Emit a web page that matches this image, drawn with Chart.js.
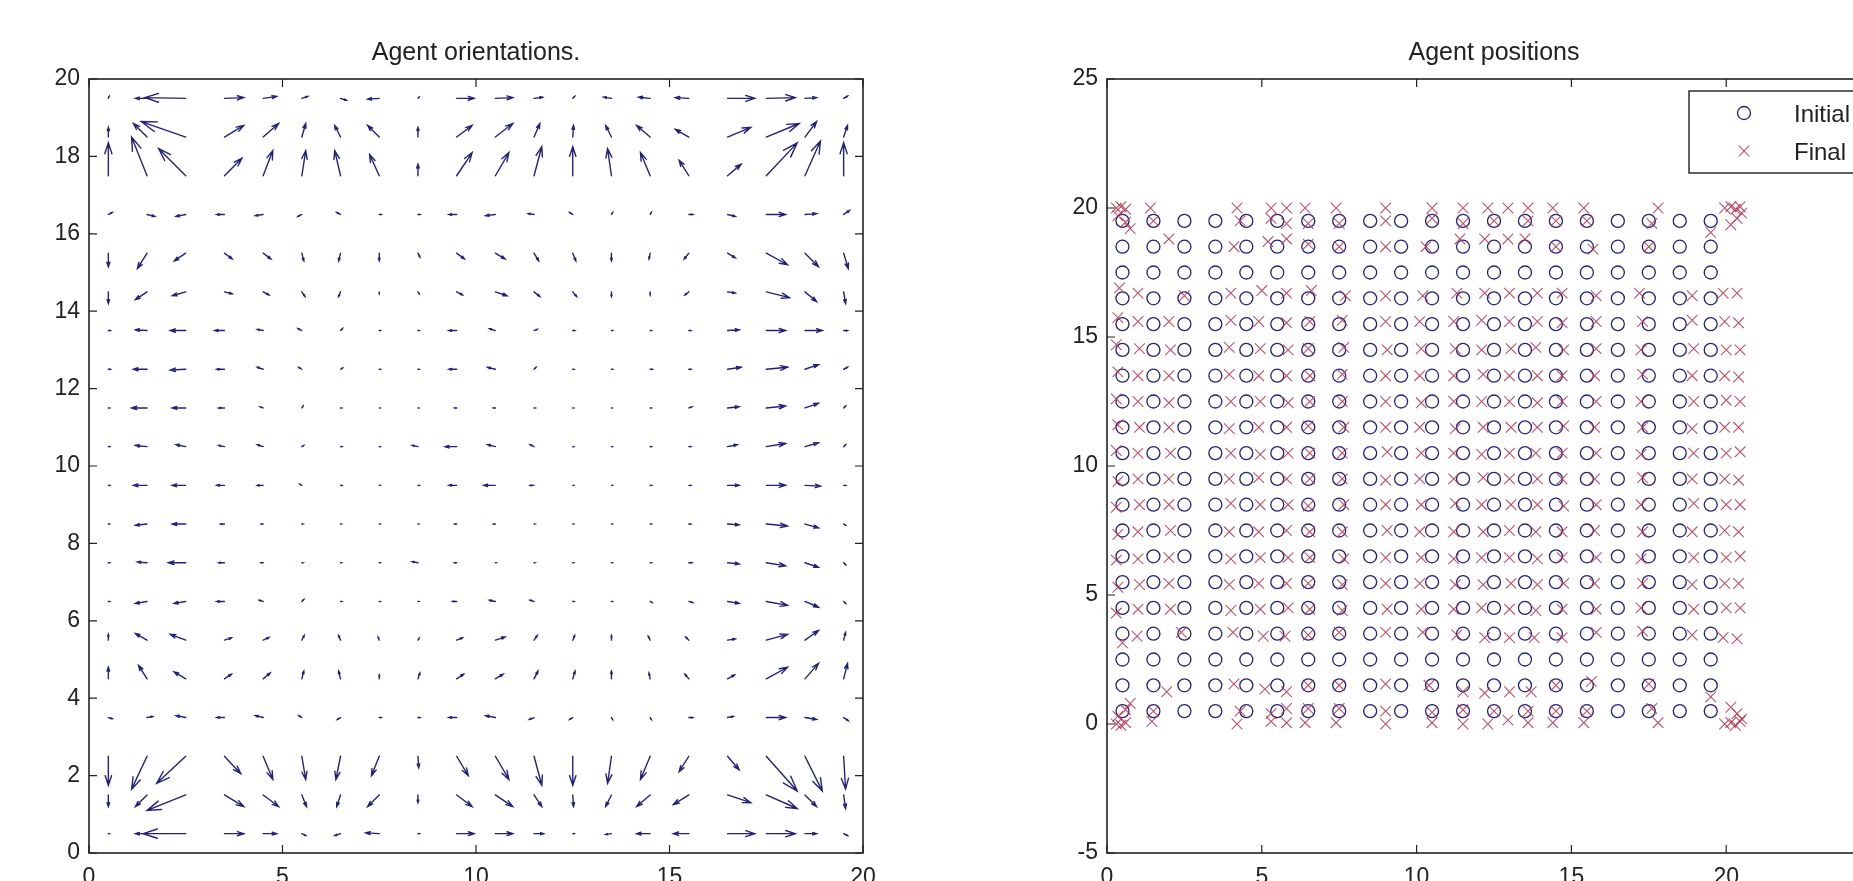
<!DOCTYPE html>
<html>
<head>
<meta charset="utf-8">
<script src="https://cdn.jsdelivr.net/npm/chart.js@4.4.1/dist/chart.umd.min.js"></script>
<style>
html, body { margin: 0; padding: 0; background: #fff; overflow: hidden; width: 1853px; height: 881px; }
canvas { position: absolute; top: 0; }
#orient { left: 0; }
#pos { left: 960px; }
</style>
</head>
<body>
<canvas id="orient" width="940" height="900"></canvas>
<canvas id="pos" width="1000" height="900"></canvas>
<script>
'use strict'

// agent grid (x columns, y rows from top)
var gridX = [0.5, 1.5, 2.5, 3.5, 4.5, 5.5, 6.5, 7.5, 8.5, 9.5, 10.5, 11.5, 12.5, 13.5, 14.5, 15.5, 16.5, 17.5, 18.5, 19.5]
var gridY = [19.5, 18.5, 17.5, 16.5, 15.5, 14.5, 13.5, 12.5, 11.5, 10.5, 9.5, 8.5, 7.5, 6.5, 5.5, 4.5, 3.5, 2.5, 1.5, 0.5]

// orientation arrows, one row per gridY entry
var arrowU = [
  [0.02, -0.3, -1.05, 0.5, 0.35, 0.15, 0.15, -0.3, 0.03, 0.45, 0.45, 0.22, 0.05, -0.2, -0.3, -0.35, 0.7, 0.75, 0.3, 0.1],
  [0, -0.35, -1.15, 0.5, 0.4, 0.1, -0.15, -0.3, 0, 0.4, 0.45, 0.15, 0.02, -0.15, -0.35, -0.35, 0.6, 0.85, 0.3, 0.1],
  [0, -0.4, -0.7, 0.45, 0.25, 0.1, -0.15, -0.25, 0, 0.4, 0.35, 0.2, 0, -0.1, -0.25, -0.25, 0.35, 0.8, 0.4, 0],
  [0.1, 0.2, -0.25, -0.2, -0.2, -0.1, -0.1, 0.05, 0.05, -0.2, -0.25, -0.15, -0.08, 0.03, 0.03, 0.1, 0.2, 0.5, 0.3, 0.15],
  [0, -0.25, -0.3, 0.2, 0.2, 0.05, -0.05, 0, 0.05, 0.2, 0.25, 0.12, 0.08, 0, -0.03, -0.12, 0.2, 0.55, 0.35, 0.12],
  [0, -0.3, -0.35, 0.2, 0.15, 0.08, -0.05, 0, 0.03, 0.15, 0.3, 0.15, 0.1, 0, 0, -0.1, 0.2, 0.6, 0.3, 0.05],
  [0.05, -0.3, -0.4, -0.25, -0.15, -0.1, 0.05, 0.03, 0.03, -0.2, -0.15, 0.08, 0.05, 0.03, 0.03, 0.05, 0.3, 0.5, 0.45, 0.1],
  [0.05, -0.35, -0.4, -0.2, -0.15, -0.08, 0.05, 0.03, 0.03, -0.2, -0.2, 0.05, 0.03, 0.03, 0.05, 0.05, 0.35, 0.55, 0.35, 0.1],
  [0.03, -0.4, -0.35, -0.15, -0.08, 0.03, 0.03, 0.02, 0.02, -0.05, -0.05, 0.03, 0.02, 0.02, 0.03, 0.08, 0.3, 0.5, 0.35, 0.05],
  [0.03, -0.3, -0.25, -0.15, -0.15, 0.05, 0.03, 0.02, -0.15, -0.3, -0.2, -0.1, 0.02, 0.02, 0.03, 0.05, 0.25, 0.5, 0.35, 0.05],
  [0.03, -0.35, -0.35, -0.2, -0.15, -0.05, 0.03, 0.02, 0.03, -0.2, -0.3, -0.1, 0.02, 0.02, 0.03, 0.05, 0.3, 0.5, 0.4, 0.05],
  [0.03, -0.3, -0.35, -0.1, -0.05, 0.03, 0.02, 0.02, 0.02, -0.05, -0.05, 0.02, 0.02, 0.02, 0.03, 0.05, 0.3, 0.55, 0.35, 0.05],
  [0.03, -0.25, -0.45, -0.15, -0.05, 0.03, 0.02, 0.02, -0.15, -0.05, 0.02, 0.02, 0.02, 0.02, 0.03, 0.08, 0.3, 0.5, 0.35, 0.05],
  [0.03, -0.3, -0.3, -0.2, -0.1, 0.05, 0.03, 0.02, 0.02, -0.1, -0.15, -0.1, 0.03, 0.02, 0.05, 0.1, 0.3, 0.55, 0.35, 0.05],
  [0, -0.3, -0.4, 0.18, 0.15, 0.06, -0.05, -0.03, 0.03, 0.15, 0.25, 0.08, 0.05, 0, -0.05, -0.08, 0.2, 0.55, 0.35, 0.05],
  [0, -0.22, -0.3, 0.18, 0.18, 0.05, -0.05, 0, 0.05, 0.18, 0.2, 0.1, 0.06, 0, -0.03, -0.1, 0.18, 0.55, 0.35, 0.1],
  [0.1, 0.15, -0.25, -0.2, -0.2, -0.08, -0.08, 0.05, 0.05, -0.2, -0.25, -0.12, -0.08, 0.03, 0.03, 0.1, 0.15, 0.5, 0.3, 0.12],
  [0, -0.4, -0.75, 0.42, 0.25, 0.1, -0.12, -0.2, 0.02, 0.3, 0.35, 0.2, 0, -0.1, -0.25, -0.25, 0.3, 0.8, 0.45, 0.05],
  [0, -0.3, -1.0, 0.5, 0.4, 0.12, -0.1, -0.3, 0, 0.4, 0.45, 0.2, 0.02, -0.15, -0.35, -0.4, 0.6, 0.8, 0.3, 0.05],
  [0.02, -0.3, -1.1, 0.5, 0.35, 0.1, -0.15, -0.35, 0.03, 0.45, 0.45, 0.25, 0.03, -0.15, -0.35, -0.4, 0.7, 0.75, 0.3, 0.1]
]
var arrowV = [
  [0.05, 0, 0.02, 0.02, 0.05, 0.05, -0.05, -0.02, 0.03, 0, 0.02, 0.03, 0.05, 0.03, 0.03, 0.02, 0, 0.02, 0.02, 0.06],
  [0.25, 0.35, 0.4, 0.3, 0.35, 0.35, 0.3, 0.3, 0.25, 0.3, 0.35, 0.35, 0.3, 0.3, 0.3, 0.2, 0.25, 0.35, 0.4, 0.3],
  [0.85, 1.0, 0.7, 0.45, 0.65, 0.65, 0.65, 0.55, 0.3, 0.6, 0.6, 0.75, 0.75, 0.7, 0.6, 0.4, 0.3, 0.85, 0.9, 0.85],
  [0.05, -0.05, -0.05, 0, -0.03, -0.05, 0.05, 0, 0, 0, -0.03, 0.02, 0.05, 0.05, 0.05, 0, -0.05, 0, 0.02, 0.1],
  [-0.35, -0.4, -0.2, -0.15, -0.15, -0.2, -0.2, -0.2, -0.1, -0.15, -0.15, -0.2, -0.2, -0.2, -0.15, -0.15, -0.12, -0.3, -0.35, -0.4],
  [-0.3, -0.2, -0.1, -0.05, -0.08, -0.12, -0.12, -0.05, -0.05, -0.08, -0.1, -0.12, -0.12, -0.12, -0.08, -0.08, -0.03, -0.15, -0.25, -0.3],
  [0, 0.02, 0, 0, 0.03, 0.05, 0.05, 0, 0, 0, 0.05, 0.03, 0, 0, 0, 0, 0.02, 0, 0, 0],
  [0, 0, -0.02, 0, 0.05, 0.05, 0.03, 0, 0, 0, 0.05, 0.05, 0, 0, 0, 0, 0.05, 0.05, 0.12, 0.05],
  [0, 0, 0, 0, 0.03, 0.05, 0, 0, 0, 0, 0, 0, 0, 0, 0, 0.03, 0.03, 0.05, 0.12, 0.05],
  [0, 0.03, 0.05, 0.03, 0.05, 0.03, 0, 0, 0.03, 0, 0.05, 0.05, 0, 0, 0, 0, 0.05, 0.08, 0.1, 0.05],
  [0, 0, 0, 0, 0, 0.03, 0, 0, 0, 0, 0, 0, 0, 0, 0, 0, 0, 0, -0.02, 0],
  [0, -0.03, 0, 0, 0, 0, 0, 0, 0, 0, 0, 0, 0, 0, 0, 0, -0.02, -0.05, -0.1, -0.03],
  [0, 0.02, 0, 0, 0, 0, 0, 0, 0.03, 0, 0, 0, 0, 0, 0, 0, -0.03, -0.08, -0.12, -0.05],
  [0, -0.05, -0.05, 0, 0.03, 0.05, 0, 0, 0, 0, 0.03, 0.03, 0, 0, -0.03, -0.03, -0.05, -0.1, -0.15, -0.05],
  [0.15, 0.17, 0.15, 0.06, 0.07, 0.12, 0.12, 0.08, 0.05, 0.06, 0.08, 0.12, 0.12, 0.12, 0.1, 0.08, 0.03, 0.15, 0.25, 0.2],
  [0.3, 0.35, 0.18, 0.12, 0.15, 0.2, 0.2, 0.1, 0.15, 0.12, 0.12, 0.2, 0.2, 0.2, 0.15, 0.12, 0.1, 0.3, 0.4, 0.4],
  [-0.03, 0.03, 0.05, 0, 0.05, 0.05, -0.05, 0, 0, 0, 0.05, -0.05, -0.05, -0.05, -0.05, 0, 0.03, 0, -0.05, -0.08],
  [-0.75, -0.85, -0.7, -0.45, -0.6, -0.6, -0.6, -0.5, -0.3, -0.5, -0.6, -0.75, -0.75, -0.7, -0.6, -0.4, -0.35, -0.9, -0.9, -0.85],
  [-0.3, -0.3, -0.4, -0.3, -0.3, -0.3, -0.3, -0.3, -0.2, -0.3, -0.3, -0.3, -0.3, -0.3, -0.3, -0.25, -0.2, -0.35, -0.3, -0.35],
  [0, 0, 0, 0, 0, -0.05, -0.05, 0.02, 0, 0, 0, 0, 0, -0.02, 0, 0, 0, 0, 0, -0.05]
]

// final agent positions, read row band by row band
var finalX = [
  0.3, 0.45, 0.6, 1.4, 4.2, 5.3, 5.8, 6.4, 7.4, 9.0, 10.5, 11.5, 12.3, 12.95, 13.6, 14.4, 15.4, 17.8, 19.95, 20.15, 20.3, 20.45,
  0.35, 0.6, 0.75, 1.5, 4.3, 5.3, 5.8, 6.5, 7.5, 9.0, 10.5, 11.5, 12.5, 13.6, 14.5, 15.5, 17.6, 19.5, 20.15, 20.35, 20.5,
  2.0, 4.1, 5.2, 5.8, 6.5, 7.5, 9.0, 10.3, 11.4, 12.2, 12.95, 13.5, 14.5, 15.7, 17.5,
  0.4, 1.0, 2.5, 4.0, 5.0, 5.8, 6.6, 7.7, 9.0, 10.2, 11.3, 12.2, 13.0, 13.9, 14.7, 15.8, 17.2, 18.9, 19.9, 20.35,
  0.35, 1.0, 2.0, 4.0, 4.9, 5.8, 6.55, 7.6, 9.0, 10.1, 11.2, 12.1, 13.0, 13.9, 14.7, 15.8, 17.3, 18.9, 19.95, 20.4,
  0.3, 1.05, 2.05, 3.95, 4.95, 5.85, 6.5, 7.65, 9.05, 10.15, 11.25, 12.1, 13.05, 13.85, 14.75, 15.8, 17.25, 18.95, 20.0, 20.45,
  0.35, 1.0, 2.0, 3.95, 4.9, 5.8, 6.55, 7.6, 9.0, 10.1, 11.2, 12.15, 13.0, 13.9, 14.7, 15.75, 17.3, 18.9, 19.95, 20.4,
  0.3, 1.0, 2.0, 4.0, 4.95, 5.85, 6.55, 7.6, 9.0, 10.15, 11.2, 12.1, 13.0, 13.9, 14.7, 15.8, 17.25, 18.95, 20.0, 20.45,
  0.35, 1.05, 2.0, 3.95, 4.9, 5.8, 6.5, 7.65, 9.0, 10.1, 11.25, 12.15, 13.05, 13.9, 14.75, 15.75, 17.3, 18.9, 19.95, 20.4,
  0.3, 1.0, 2.05, 4.0, 4.95, 5.85, 6.55, 7.6, 9.05, 10.15, 11.2, 12.1, 13.0, 13.85, 14.7, 15.8, 17.25, 18.95, 20.0, 20.45,
  0.35, 1.0, 2.0, 3.95, 4.9, 5.8, 6.55, 7.6, 9.0, 10.1, 11.2, 12.15, 13.0, 13.9, 14.7, 15.75, 17.3, 18.9, 19.95, 20.4,
  0.3, 1.05, 2.0, 4.0, 4.95, 5.85, 6.5, 7.65, 9.0, 10.15, 11.25, 12.1, 13.05, 13.9, 14.75, 15.8, 17.25, 18.95, 20.0, 20.45,
  0.35, 1.0, 2.05, 3.95, 4.9, 5.8, 6.55, 7.6, 9.05, 10.1, 11.2, 12.15, 13.0, 13.85, 14.7, 15.75, 17.3, 18.9, 19.95, 20.4,
  0.3, 1.0, 2.0, 4.0, 4.95, 5.85, 6.55, 7.65, 9.0, 10.15, 11.2, 12.1, 13.0, 13.9, 14.7, 15.8, 17.25, 18.95, 20.0, 20.45,
  0.35, 1.05, 2.0, 3.95, 4.9, 5.8, 6.5, 7.6, 9.0, 10.1, 11.25, 12.15, 13.05, 13.9, 14.75, 15.75, 17.3, 18.9, 19.95, 20.4,
  0.3, 1.0, 2.05, 4.0, 4.95, 5.85, 6.55, 7.6, 9.05, 10.15, 11.2, 12.1, 13.0, 13.85, 14.7, 15.8, 17.25, 18.95, 20.0, 20.45,
  0.5, 0.97, 2.4, 4.07, 5.05, 5.75, 6.5, 7.5, 9.0, 10.2, 11.3, 12.2, 13.0, 13.8, 14.7, 15.8, 17.3, 18.9, 19.9, 20.35,
  1.93, 4.1, 5.1, 5.8, 6.5, 7.5, 9.0, 10.4, 11.5, 12.2, 13.0, 13.7, 14.5, 15.65, 17.5, 19.5,
  0.35, 0.6, 0.75, 1.5, 4.3, 5.3, 5.8, 6.5, 7.5, 9.0, 10.5, 11.5, 12.5, 13.6, 14.5, 15.5, 17.6, 20.15, 20.35, 20.5,
  0.3, 0.45, 0.6, 1.45, 4.2, 5.3, 5.8, 6.4, 7.4, 9.0, 10.5, 11.5, 12.3, 12.95, 13.6, 14.4, 15.4, 17.8, 19.95, 20.15, 20.3, 20.45
]
var finalY = [
  20.0, 20.05, 19.95, 20.0, 20.0, 20.0, 20.0, 20.0, 20.0, 20.0, 20.0, 20.0, 20.0, 20.0, 20.0, 20.0, 20.0, 20.0, 20.0, 20.05, 19.95, 20.05,
  19.7, 19.45, 19.2, 19.5, 19.5, 19.6, 19.4, 19.4, 19.4, 19.5, 19.6, 19.4, 19.5, 19.5, 19.5, 19.5, 19.4, 19.05, 19.35, 19.6, 19.8,
  18.8, 18.5, 18.7, 18.8, 18.6, 18.5, 18.5, 18.5, 18.8, 18.8, 18.8, 18.8, 18.5, 18.4, 18.5,
  16.9, 16.7, 16.6, 16.7, 16.8, 16.7, 16.8, 16.6, 16.6, 16.6, 16.7, 16.7, 16.7, 16.7, 16.7, 16.6, 16.7, 16.6, 16.7, 16.7,
  15.75, 15.6, 15.6, 15.65, 15.6, 15.55, 15.6, 15.65, 15.6, 15.6, 15.6, 15.65, 15.6, 15.6, 15.55, 15.6, 15.6, 15.65, 15.6, 15.55,
  14.7, 14.55, 14.5, 14.6, 14.55, 14.5, 14.55, 14.6, 14.5, 14.55, 14.55, 14.5, 14.55, 14.6, 14.5, 14.55, 14.5, 14.55, 14.5, 14.5,
  13.65, 13.5, 13.5, 13.55, 13.5, 13.5, 13.5, 13.55, 13.5, 13.5, 13.5, 13.55, 13.5, 13.5, 13.5, 13.5, 13.55, 13.5, 13.5, 13.45,
  12.6, 12.5, 12.45, 12.5, 12.5, 12.45, 12.5, 12.5, 12.5, 12.45, 12.5, 12.5, 12.5, 12.45, 12.5, 12.5, 12.5, 12.5, 12.55, 12.5,
  11.6, 11.5, 11.5, 11.45, 11.5, 11.5, 11.55, 11.5, 11.5, 11.5, 11.45, 11.5, 11.5, 11.5, 11.55, 11.5, 11.5, 11.45, 11.5, 11.5,
  10.6, 10.5, 10.5, 10.5, 10.45, 10.5, 10.5, 10.5, 10.55, 10.5, 10.5, 10.45, 10.5, 10.5, 10.5, 10.5, 10.45, 10.5, 10.5, 10.55,
  9.4, 9.5, 9.5, 9.5, 9.55, 9.5, 9.5, 9.5, 9.45, 9.5, 9.5, 9.55, 9.5, 9.5, 9.5, 9.5, 9.55, 9.5, 9.5, 9.45,
  8.4, 8.5, 8.5, 8.55, 8.5, 8.5, 8.45, 8.5, 8.5, 8.5, 8.55, 8.5, 8.5, 8.5, 8.45, 8.5, 8.5, 8.55, 8.5, 8.5,
  7.35, 7.45, 7.5, 7.45, 7.45, 7.5, 7.45, 7.45, 7.5, 7.45, 7.45, 7.45, 7.5, 7.45, 7.45, 7.5, 7.45, 7.45, 7.5, 7.45,
  6.35, 6.4, 6.45, 6.4, 6.45, 6.45, 6.45, 6.4, 6.45, 6.45, 6.4, 6.45, 6.45, 6.4, 6.45, 6.45, 6.4, 6.45, 6.45, 6.5,
  5.3, 5.4, 5.45, 5.4, 5.45, 5.45, 5.45, 5.4, 5.45, 5.45, 5.4, 5.4, 5.45, 5.4, 5.45, 5.45, 5.45, 5.4, 5.45, 5.45,
  4.3, 4.45, 4.45, 4.4, 4.45, 4.5, 4.45, 4.4, 4.45, 4.45, 4.45, 4.5, 4.45, 4.4, 4.45, 4.45, 4.5, 4.45, 4.5, 4.5,
  3.15, 3.4, 3.55, 3.55, 3.4, 3.4, 3.45, 3.55, 3.55, 3.55, 3.45, 3.35, 3.35, 3.35, 3.35, 3.55, 3.6, 3.45, 3.35, 3.3,
  1.25, 1.55, 1.35, 1.25, 1.5, 1.5, 1.55, 1.5, 1.25, 1.2, 1.25, 1.25, 1.5, 1.65, 1.55, 1.05,
  0.3, 0.55, 0.8, 0.5, 0.5, 0.4, 0.6, 0.6, 0.6, 0.5, 0.45, 0.55, 0.5, 0.5, 0.5, 0.5, 0.6, 0.65, 0.4, 0.2,
  0.0, -0.05, 0.05, 0.1, 0.0, 0.1, 0.05, 0.05, 0.05, 0.0, 0.05, 0.0, 0.0, 0.15, 0.05, 0.05, 0.05, 0.05, 0.0, 0.05, -0.05, 0.1
]

var orientTicksX = [0, 5, 10, 15, 20]
var orientTicksY = [0, 2, 4, 6, 8, 10, 12, 14, 16, 18, 20]
var posTicksX = [0, 5, 10, 15, 20, 25]
var posTicksY = [-5, 0, 5, 10, 15, 20, 25]
var legendLabels = ['Initial', 'Final']

var FONT = '"Liberation Sans", Arial, Helvetica, sans-serif'
var INK = '#222'
var BLUE = '#22227a'
var RED = 'rgba(176, 52, 80, 0.85)'

var gridPoints = []
gridY.forEach(function (yv) {
  gridX.forEach(function (xv) { gridPoints.push({ x: xv, y: yv }) })
})
var finalPoints = finalX.map(function (xv, i) { return { x: xv, y: finalY[i] } })

// box, inward ticks on all sides, title
var framePlugin = {
  id: 'frame',
  afterDraw: function (chart, args, opts) {
    var ctx = chart.ctx, a = chart.chartArea
    var sx = chart.scales.x, sy = chart.scales.y
    ctx.save()
    ctx.strokeStyle = INK
    ctx.lineWidth = 1.6
    ctx.strokeRect(a.left, a.top, a.right - a.left, a.bottom - a.top)
    ctx.lineWidth = 1.2
    ctx.beginPath()
    sx.ticks.forEach(function (t) {
      var px = sx.getPixelForValue(t.value)
      ctx.moveTo(px, a.bottom); ctx.lineTo(px, a.bottom - 8)
      ctx.moveTo(px, a.top); ctx.lineTo(px, a.top + 8)
    })
    sy.ticks.forEach(function (t) {
      var py = sy.getPixelForValue(t.value)
      ctx.moveTo(a.left, py); ctx.lineTo(a.left + 8, py)
      ctx.moveTo(a.right, py); ctx.lineTo(a.right - 8, py)
    })
    ctx.stroke()
    ctx.fillStyle = INK
    ctx.font = '25px ' + FONT
    ctx.textAlign = 'center'
    ctx.textBaseline = 'alphabetic'
    ctx.fillText(opts.text, (a.left + a.right) / 2, 60)
    ctx.restore()
  }
}

// quiver arrows from the grid dataset
var quiverPlugin = {
  id: 'quiver',
  afterDatasetsDraw: function (chart) {
    var ctx = chart.ctx
    var sx = chart.scales.x, sy = chart.scales.y
    var alpha = 0.33, beta = 0.33
    ctx.save()
    ctx.strokeStyle = BLUE
    ctx.lineWidth = 1.4
    ctx.lineCap = 'round'
    ctx.beginPath()
    gridY.forEach(function (yv, r) {
      gridX.forEach(function (xv, c) {
        var x0 = sx.getPixelForValue(xv), y0 = sy.getPixelForValue(yv)
        var x1 = sx.getPixelForValue(xv + arrowU[r][c]), y1 = sy.getPixelForValue(yv + arrowV[r][c])
        var du = x1 - x0, dv = y1 - y0
        ctx.moveTo(x0, y0); ctx.lineTo(x1, y1)
        ctx.moveTo(x1 - alpha * (du + beta * dv), y1 - alpha * (dv - beta * du))
        ctx.lineTo(x1, y1)
        ctx.lineTo(x1 - alpha * (du - beta * dv), y1 - alpha * (dv + beta * du))
      })
    })
    ctx.stroke()
    ctx.restore()
  }
}

// legend box inside the axes, north-east
var legendPlugin = {
  id: 'boxLegend',
  afterDraw: function (chart) {
    var ctx = chart.ctx, a = chart.chartArea
    var right = a.right - 10, left = right - 182, top = a.top + 12, h = 82
    ctx.save()
    ctx.fillStyle = '#fff'
    ctx.fillRect(left, top, right - left, h)
    ctx.strokeStyle = INK
    ctx.lineWidth = 1.4
    ctx.strokeRect(left, top, right - left, h)
    chart.data.datasets.forEach(function (ds, i) {
      var cy = top + 22 + i * 38
      ctx.strokeStyle = ds.pointBorderColor
      ctx.fillStyle = 'rgba(0,0,0,0)'
      ctx.lineWidth = ds.pointBorderWidth
      Chart.helpers.drawPoint(ctx, { pointStyle: ds.pointStyle, radius: ds.pointRadius, borderWidth: ds.pointBorderWidth }, left + 55, cy)
      ctx.fillStyle = INK
      ctx.font = '24px ' + FONT
      ctx.textAlign = 'left'
      ctx.textBaseline = 'middle'
      ctx.fillText(ds.label, left + 105, cy + 2)
    })
    ctx.restore()
  }
}

function axes(min, max, ticks, isY, fixed) {
  return {
    type: 'linear',
    min: min,
    max: max,
    grid: { display: false, drawTicks: false },
    border: { display: false },
    ticks: {
      stepSize: ticks[1] - ticks[0],
      autoSkip: false,
      maxRotation: 0,
      padding: isY ? 9 : 11,
      color: INK,
      font: { family: FONT, size: 23 }
    },
    afterFit: function (s) {
      if (isY) s.width = fixed
      else s.height = fixed
    }
  }
}

new Chart(document.getElementById('orient'), {
  type: 'scatter',
  data: {
    datasets: [{ label: 'orientation', data: gridPoints, pointRadius: 0 }]
  },
  options: {
    responsive: false,
    animation: false,
    devicePixelRatio: 1,
    events: [],
    layout: { padding: { left: 0, top: 79, right: 77, bottom: 0 } },
    scales: {
      x: axes(0, 20, orientTicksX, false, 47),
      y: axes(0, 20, orientTicksY, true, 89)
    },
    plugins: {
      legend: { display: false },
      tooltip: { enabled: false },
      frame: { text: 'Agent orientations.' }
    }
  },
  plugins: [quiverPlugin, framePlugin]
})

new Chart(document.getElementById('pos'), {
  type: 'scatter',
  data: {
    datasets: [
      {
        label: legendLabels[0], data: gridPoints, order: 2,
        pointStyle: 'circle', pointRadius: 6.5, pointBorderWidth: 1.3,
        pointBorderColor: BLUE, pointBackgroundColor: 'rgba(0,0,0,0)'
      },
      {
        label: legendLabels[1], data: finalPoints, order: 1,
        pointStyle: 'crossRot', pointRadius: 7.5, pointBorderWidth: 1.1,
        pointBorderColor: RED, pointBackgroundColor: 'rgba(0,0,0,0)'
      }
    ]
  },
  options: {
    responsive: false,
    animation: false,
    devicePixelRatio: 1,
    events: [],
    layout: { padding: { left: 0, top: 79, right: 79, bottom: 0 } },
    scales: {
      x: axes(0, 25, posTicksX, false, 47),
      y: axes(-5, 25, posTicksY, true, 147)
    },
    plugins: {
      legend: { display: false },
      tooltip: { enabled: false },
      frame: { text: 'Agent positions' }
    }
  },
  plugins: [framePlugin, legendPlugin]
})
</script>
</body>
</html>
